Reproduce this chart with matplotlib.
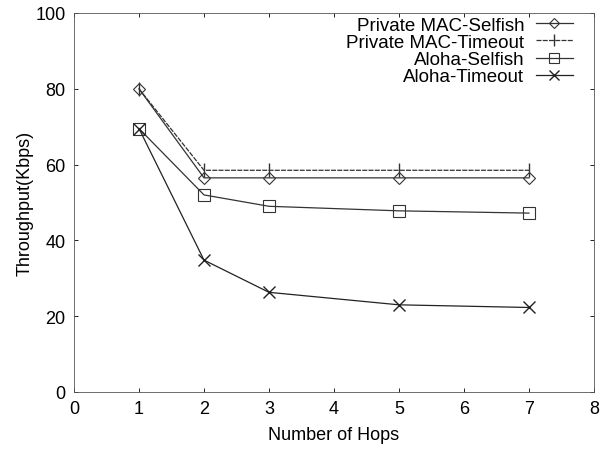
import matplotlib
matplotlib.use('Agg')
import matplotlib.pyplot as plt

plt.rcParams['font.family'] = ['Liberation Sans', 'DejaVu Sans']

hops = [1, 2, 3, 5, 7]
mac_selfish = [80, 56.5, 56.5, 56.5, 56.5]
mac_timeout = [80, 58.5, 58.5, 58.5, 58.5]
aloha_selfish = [69.5, 52, 49, 47.8, 47.2]
aloha_timeout = [69.5, 34.8, 26.3, 23, 22.3]

fig = plt.figure(figsize=(6.09, 4.52), dpi=100)
ax = fig.add_axes([74 / 609, 59 / 452, 520 / 609, 379 / 452])

ax.plot(hops, mac_selfish, color='#333333', lw=0.9, marker='D', ms=6.5, mfc='none', mec='#333333', mew=0.8,
        label='Private MAC-Selfish')
ax.plot(hops, mac_timeout, color='#333333', lw=0.9, linestyle=(0, (4, 1)), marker='|', ms=10, mew=1.0,
        label='Private MAC-Timeout')
ax.plot(hops, aloha_selfish, color='#333333', lw=0.9, marker='s', ms=9, mfc='none', mec='#333333', mew=0.8,
        label='Aloha-Selfish')
ax.plot(hops, aloha_timeout, color='#222222', lw=0.9, marker='x', ms=9, mew=1.0,
        label='Aloha-Timeout')

ax.set_xlim(0, 8)
ax.set_ylim(0, 100)
ax.set_xticks(range(0, 9))
ax.set_yticks(range(0, 101, 20))
ax.tick_params(direction='in', labelsize=13, length=3, width=0.6, top=True, right=True, pad=6)
ax.set_xlabel('Number of Hops', fontsize=13, labelpad=6)
ax.set_ylabel('Throughput(Kbps)', fontsize=13, labelpad=1)
for s in ax.spines.values():
    s.set_linewidth(0.6)
    s.set_color('#555555')

ax.legend(loc='upper right', frameon=False, markerfirst=False, fontsize=13.5, handlelength=2.0,
          labelspacing=0.0, borderaxespad=0.0, borderpad=0.0, handletextpad=0.6, markerscale=0.8,
          bbox_to_anchor=(0.96, 0.99))

fig.savefig('out.png', dpi=100)
